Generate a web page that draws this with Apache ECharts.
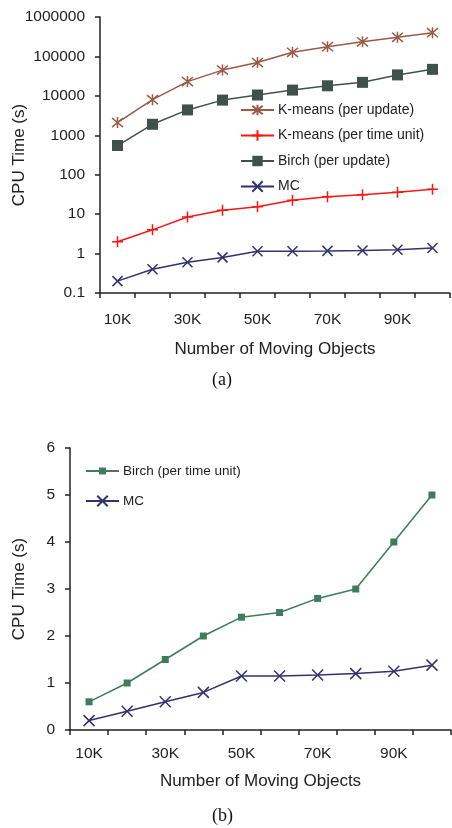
<!DOCTYPE html>
<html>
<head>
<meta charset="utf-8">
<script src="https://cdn.jsdelivr.net/npm/echarts@6/dist/echarts.min.js"></script>
<style>
  html, body { margin: 0; padding: 0; background: #fff; }
  #chart { width: 452px; height: 828px; }
</style>
</head>
<body>
<div id="chart"></div>
<script>
// Number of moving objects (x categories, shared by both panels)
const categories = ['10K', '20K', '30K', '40K', '50K', '60K', '70K', '80K', '90K', '100K'];

// Panel (a): CPU time in seconds, log scale
const kmeansPerUpdate   = [2100, 8000, 23000, 45000, 70000, 127000, 177000, 235000, 305000, 400000];
const kmeansPerTimeUnit = [2, 4, 8.5, 12.5, 15.5, 22.5, 27.5, 31, 36, 43];
const birchPerUpdate    = [550, 1900, 4400, 7800, 10500, 14000, 18000, 22000, 34000, 47000];
const mcTime            = [0.2, 0.4, 0.6, 0.8, 1.15, 1.15, 1.17, 1.2, 1.25, 1.38];

// Panel (b): CPU time in seconds, linear scale
const birchPerTimeUnit  = [0.6, 1.0, 1.5, 2.0, 2.4, 2.5, 2.8, 3.0, 4.0, 5.0];

// Axis tick labels
const logTickLabels = ['0.1', '1', '10', '100', '1000', '10000', '100000', '1000000'];
const linTickLabels = ['0', '1', '2', '3', '4', '5', '6'];

const FONT = '"Liberation Sans", Arial, sans-serif';
const TEXT = '#222';
const AXIS = '#222';

const ASTERISK = 'path://M0,0L10,10M10,0L0,10M5,-1L5,11';
const PLUS = 'path://M5,0L5,10M0,5L10,5';
const CROSS = 'path://M0,0L10,10M10,0L0,10';
// small square inside a padded box, so its legend icon stays small next to the cross
const PADDED_SQUARE = 'path://M0,0M12,12M2,2L10,2L10,10L2,10Z';

function strokeMarker(color, width) {
  return { color: color, borderColor: color, borderWidth: width };
}

const logLabelFor = v => {
  const exp = Math.round(Math.log10(v)) + 1;
  return logTickLabels[exp] !== undefined ? logTickLabels[exp] : '';
};

const axisLabelStyle = { color: TEXT, fontFamily: FONT, fontSize: 15.5 };
const axisNameStyle = { color: TEXT, fontFamily: FONT, fontSize: 17 };

const chart = echarts.init(document.getElementById('chart'), null, { renderer: 'canvas' });

chart.setOption({
  animation: false,
  backgroundColor: '#fff',
  grid: [
    { left: 100, top: 17, width: 350, height: 276, containLabel: false, outerBoundsMode: 'none' },
    { left: 70, top: 448, width: 381, height: 282, containLabel: false, outerBoundsMode: 'none' }
  ],
  xAxis: [0, 1].map(i => ({
    type: 'category',
    gridIndex: i,
    data: categories,
    boundaryGap: true,
    name: 'Number of Moving Objects',
    nameLocation: 'middle',
    nameGap: i === 0 ? 48 : 43,
    nameMoveOverlap: false,
    nameTextStyle: axisNameStyle,
    axisLine: { lineStyle: { color: AXIS, width: 1.5 } },
    axisTick: { show: true, interval: 0, length: 5, lineStyle: { color: AXIS, width: 1.5 } },
    axisLabel: Object.assign({ interval: 1, margin: i === 0 ? 19 : 16 }, axisLabelStyle),
    splitLine: { show: false }
  })),
  yAxis: [
    {
      type: 'log',
      gridIndex: 0,
      logBase: 10,
      min: 0.1,
      max: 1000000,
      name: 'CPU Time (s)',
      nameLocation: 'middle',
      nameGap: 72,
      nameMoveOverlap: false,
      nameTextStyle: axisNameStyle,
      axisLine: { show: true, lineStyle: { color: AXIS, width: 1.5 } },
      axisTick: { show: true, length: 5, lineStyle: { color: AXIS, width: 1.5 } },
      axisLabel: Object.assign({ margin: 15, formatter: logLabelFor }, axisLabelStyle),
      splitLine: { show: false },
      minorTick: { show: false }
    },
    {
      type: 'value',
      gridIndex: 1,
      min: 0,
      max: 6,
      interval: 1,
      name: 'CPU Time (s)',
      nameLocation: 'middle',
      nameGap: 42,
      nameMoveOverlap: false,
      nameTextStyle: axisNameStyle,
      axisLine: { show: true, lineStyle: { color: AXIS, width: 1.5 } },
      axisTick: { show: true, length: 5, lineStyle: { color: AXIS, width: 1.5 } },
      axisLabel: Object.assign({ margin: 15, formatter: v => linTickLabels[Math.round(v)] }, axisLabelStyle),
      splitLine: { show: false }
    }
  ],
  legend: [
    {
      orient: 'vertical',
      left: 240,
      top: 103,
      padding: 0,
      itemWidth: 33,
      itemHeight: 13,
      itemGap: 11.5,
      textStyle: { color: TEXT, fontFamily: FONT, fontSize: 14, padding: [0, 0, 0, -1] },
      data: ['K-means (per update)', 'K-means (per time unit)', 'Birch (per update)', 'MC']
    },
    {
      orient: 'vertical',
      left: 85,
      top: 464,
      padding: 0,
      itemWidth: 33,
      itemHeight: 13,
      itemGap: 16,
      textStyle: { color: TEXT, fontFamily: FONT, fontSize: 13.5, padding: [0, 0, 0, -1] },
      data: ['Birch (per time unit)', 'MC']
    }
  ],
  series: [
    {
      name: 'K-means (per update)', type: 'line', xAxisIndex: 0, yAxisIndex: 0,
      data: kmeansPerUpdate, symbol: ASTERISK, symbolSize: 11,
      lineStyle: { color: '#9a5a45', width: 1.5 },
      itemStyle: strokeMarker('#9a5a45', 1.5)
    },
    {
      name: 'K-means (per time unit)', type: 'line', xAxisIndex: 0, yAxisIndex: 0,
      data: kmeansPerTimeUnit, symbol: PLUS, symbolSize: 11,
      lineStyle: { color: '#ff1414', width: 1.5 },
      itemStyle: strokeMarker('#ff1414', 1.5)
    },
    {
      name: 'Birch (per update)', type: 'line', xAxisIndex: 0, yAxisIndex: 0,
      data: birchPerUpdate, symbol: 'rect', symbolSize: 11,
      lineStyle: { color: '#3e5249', width: 1.5 },
      itemStyle: { color: '#3e5249', borderWidth: 0 }
    },
    {
      name: 'MC', type: 'line', xAxisIndex: 0, yAxisIndex: 0,
      data: mcTime, symbol: CROSS, symbolSize: 10,
      lineStyle: { color: '#32326c', width: 1.5 },
      itemStyle: strokeMarker('#32326c', 1.5)
    },
    {
      name: 'Birch (per time unit)', type: 'line', xAxisIndex: 1, yAxisIndex: 1,
      data: birchPerTimeUnit, symbol: PADDED_SQUARE, symbolSize: 10.5,
      lineStyle: { color: '#3d7d5c', width: 1.5 },
      itemStyle: { color: '#3d7d5c', borderWidth: 0 }
    },
    {
      name: 'MC', type: 'line', xAxisIndex: 1, yAxisIndex: 1,
      data: mcTime, symbol: CROSS, symbolSize: 11,
      lineStyle: { color: '#32326c', width: 1.5 },
      itemStyle: strokeMarker('#32326c', 1.5)
    }
  ],
  graphic: [
    {
      type: 'text', left: 212, top: 371,
      style: { text: '(a)', fill: '#111', font: '18px "Liberation Serif", "Times New Roman", serif' }
    },
    {
      type: 'text', left: 212, top: 807,
      style: { text: '(b)', fill: '#111', font: '18px "Liberation Serif", "Times New Roman", serif' }
    }
  ]
});
</script>
</body>
</html>
